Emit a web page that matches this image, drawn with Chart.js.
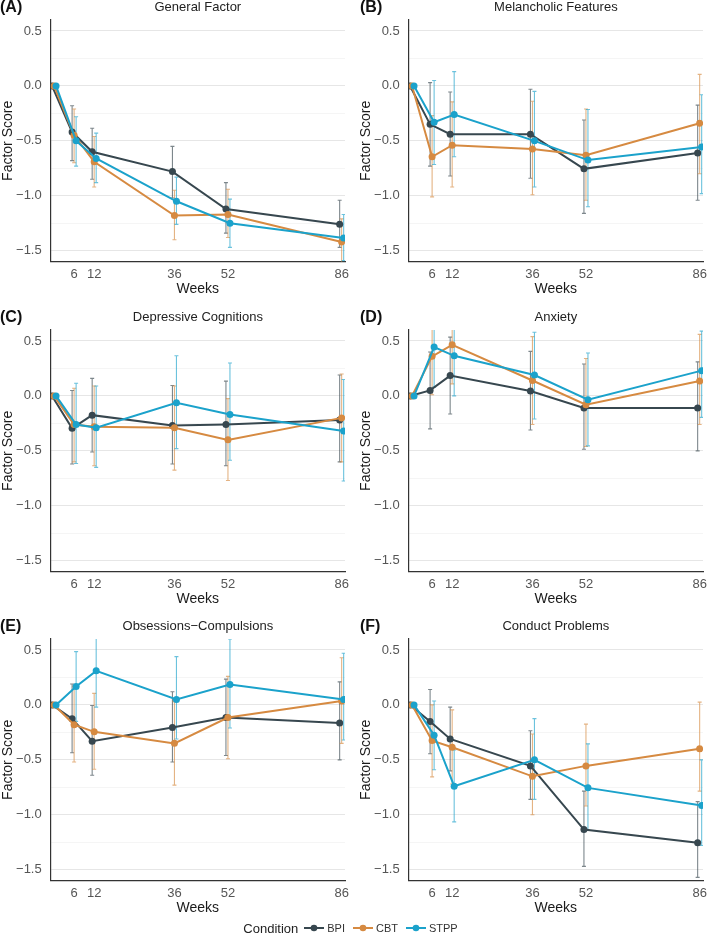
<!DOCTYPE html>
<html>
<head>
<meta charset="utf-8">
<script src="https://cdn.jsdelivr.net/npm/chart.js@4.4.1/dist/chart.umd.min.js"></script>
<style>
  body { margin: 0; background: #fff; width: 709px; height: 935px; position: relative; overflow: hidden;
         font-family: "Liberation Sans", Arial, sans-serif; }
  .panel { position: absolute; width: 354px; height: 310px; }
  .legend { position: absolute; top: 919px; left: 0; width: 709px; height: 18px; display: flex;
            justify-content: center; align-items: center; color: #333; }
  .legend .cap { font-size: 13px; margin-right: 6px; color: #222; }
  .legend .item { display: flex; align-items: center; font-size: 11px; margin-right: 8px; }
  .legend svg { margin-right: 3px; }
</style>
</head>
<body>
<div id="panels"></div>
<div class="legend" id="legend"><span class="cap">Condition</span></div>
<script>
const weeks = [0, 6, 12, 36, 52, 86];
const weekTicks = [6, 12, 36, 52, 86];
const scoreTicks = [0.5, 0, -0.5, -1, -1.5];
const conditions = ['BPI', 'CBT', 'STPP'];
const colors = ['#37474f', '#d68a41', '#1ba2cb'];
const dodge = [-0.6, 0, 0.6];

const letters = ['(A)', '(B)', '(C)', '(D)', '(E)', '(F)'];
const titles = ['General Factor', 'Melancholic Features', 'Depressive Cognitions',
                'Anxiety', 'Obsessions\u2212Compulsions', 'Conduct Problems'];

// (A) General Factor
const generalBPI = [0, -0.42, -0.60, -0.78, -1.12, -1.26];
const generalBPILow = [null, -0.68, -0.85, -1.02, -1.34, -1.47];
const generalBPIHigh = [null, -0.18, -0.385, -0.55, -0.88, -1.04];
const generalCBT = [0, -0.45, -0.69, -1.18, -1.17, -1.42];
const generalCBTLow = [null, -0.70, -0.92, -1.40, -1.38, -1.63];
const generalCBTHigh = [null, -0.21, -0.46, -0.95, -0.94, -1.21];
const generalSTPP = [0, -0.50, -0.66, -1.05, -1.25, -1.385];
const generalSTPPLow = [null, -0.73, -0.88, -1.26, -1.47, -1.59];
const generalSTPPHigh = [null, -0.28, -0.43, -0.83, -1.03, -1.17];

// (B) Melancholic Features
const melanBPI = [0, -0.35, -0.44, -0.44, -0.755, -0.61];
const melanBPILow = [null, -0.73, -0.82, -0.84, -1.16, -1.04];
const melanBPIHigh = [null, 0.03, -0.055, -0.03, -0.31, -0.175];
const melanCBT = [0, -0.645, -0.54, -0.575, -0.63, -0.34];
const melanCBTLow = [null, -1.01, -0.92, -0.99, -1.04, -0.80];
const melanCBTHigh = [null, -0.27, -0.145, -0.14, -0.21, 0.105];
const melanSTPP = [0, -0.33, -0.26, -0.50, -0.675, -0.555];
const melanSTPPLow = [null, -0.715, -0.645, -0.92, -1.10, -0.98];
const melanSTPPHigh = [null, 0.05, 0.13, -0.05, -0.215, -0.08];

// (C) Depressive Cognitions
const cognBPI = [0, -0.295, -0.175, -0.27, -0.26, -0.22];
const cognBPILow = [null, -0.62, -0.51, -0.62, -0.635, -0.60];
const cognBPIHigh = [null, 0.05, 0.16, 0.095, 0.135, 0.19];
const cognCBT = [0, -0.26, -0.28, -0.29, -0.40, -0.20];
const cognCBTLow = [null, -0.60, -0.635, -0.675, -0.77, -0.60];
const cognCBTHigh = [null, 0.07, 0.09, 0.09, -0.025, 0.20];
const cognSTPP = [0, -0.26, -0.29, -0.063, -0.17, -0.32];
const cognSTPPLow = [null, -0.615, -0.65, -0.48, -0.585, -0.775];
const cognSTPPHigh = [null, 0.115, 0.09, 0.365, 0.30, 0.15];

// (D) Anxiety
const anxBPI = [0, 0.05, 0.185, 0.045, -0.11, -0.11];
const anxBPILow = [null, -0.30, -0.165, -0.31, -0.485, -0.50];
const anxBPIHigh = [null, 0.40, 0.535, 0.405, 0.29, 0.31];
const anxCBT = [0, 0.36, 0.465, 0.14, -0.08, 0.135];
const anxCBTLow = [null, 0.01, 0.11, -0.26, -0.46, -0.26];
const anxCBTHigh = [null, 0.72, 0.82, 0.54, 0.34, 0.56];
const anxSTPP = [0, 0.445, 0.365, 0.19, -0.035, 0.23];
const anxSTPPLow = [null, 0.08, 0.0, -0.21, -0.455, -0.195];
const anxSTPPHigh = [null, 0.81, 0.73, 0.58, 0.39, 0.59];

// (E) Obsessions-Compulsions
const ocBPI = [0, -0.125, -0.33, -0.205, -0.115, -0.165];
const ocBPILow = [null, -0.435, -0.64, -0.52, -0.46, -0.50];
const ocBPIHigh = [null, 0.19, -0.005, 0.12, 0.235, 0.21];
const ocCBT = [0, -0.18, -0.245, -0.35, -0.115, 0.035];
const ocCBTLow = [null, -0.52, -0.585, -0.73, -0.49, -0.35];
const ocCBTHigh = [null, 0.17, 0.105, 0.03, 0.26, 0.43];
const ocSTPP = [0, 0.167, 0.31, 0.05, 0.185, 0.05];
const ocSTPPLow = [null, -0.15, -0.02, -0.31, -0.21, -0.32];
const ocSTPPHigh = [null, 0.485, 0.64, 0.44, 0.60, 0.47];

// (F) Conduct Problems
const condBPI = [0, -0.15, -0.31, -0.555, -1.135, -1.255];
const condBPILow = [null, -0.445, -0.60, -0.86, -1.47, -1.57];
const condBPIHigh = [null, 0.14, -0.02, -0.235, -0.785, -0.88];
const condCBT = [0, -0.325, -0.385, -0.65, -0.555, -0.40];
const condCBTLow = [null, -0.655, -0.72, -1.0, -0.92, -0.785];
const condCBTHigh = [null, 0.0, -0.045, -0.265, -0.175, 0.025];
const condSTPP = [0, -0.275, -0.74, -0.50, -0.755, -0.915];
const condSTPPLow = [null, -0.59, -1.065, -0.86, -1.14, -1.28];
const condSTPPHigh = [null, 0.035, -0.41, -0.125, -0.355, -0.50];

const panels = [
  { mean: [generalBPI, generalCBT, generalSTPP], low: [generalBPILow, generalCBTLow, generalSTPPLow], high: [generalBPIHigh, generalCBTHigh, generalSTPPHigh] },
  { mean: [melanBPI, melanCBT, melanSTPP], low: [melanBPILow, melanCBTLow, melanSTPPLow], high: [melanBPIHigh, melanCBTHigh, melanSTPPHigh] },
  { mean: [cognBPI, cognCBT, cognSTPP], low: [cognBPILow, cognCBTLow, cognSTPPLow], high: [cognBPIHigh, cognCBTHigh, cognSTPPHigh] },
  { mean: [anxBPI, anxCBT, anxSTPP], low: [anxBPILow, anxCBTLow, anxSTPPLow], high: [anxBPIHigh, anxCBTHigh, anxSTPPHigh] },
  { mean: [ocBPI, ocCBT, ocSTPP], low: [ocBPILow, ocCBTLow, ocSTPPLow], high: [ocBPIHigh, ocCBTHigh, ocSTPPHigh] },
  { mean: [condBPI, condCBT, condSTPP], low: [condBPILow, condCBTLow, condSTPPLow], high: [condBPIHigh, condCBTHigh, condSTPPHigh] }
];

const FONT = '"Liberation Sans", Arial, sans-serif';
const isMajor = v => Math.abs(v * 2 - Math.round(v * 2)) < 1e-6;

// error bars under the lines, clipped to the panel like coord_cartesian
const errorBars = {
  id: 'errorBars',
  beforeDatasetsDraw(chart) {
    const { ctx, chartArea, scales: { y } } = chart;
    ctx.save();
    ctx.beginPath();
    ctx.rect(chartArea.left, chartArea.top, chartArea.width, chartArea.height);
    ctx.clip();
    chart.data.datasets.forEach((ds, k) => {
      const meta = chart.getDatasetMeta(k);
      ctx.strokeStyle = ds.borderColor;
      ctx.globalAlpha = 0.65;
      ctx.lineWidth = 1.1;
      meta.data.forEach((pt, i) => {
        if (ds.low[i] == null) return;
        const y1 = y.getPixelForValue(ds.low[i]);
        const y2 = y.getPixelForValue(ds.high[i]);
        ctx.beginPath();
        ctx.moveTo(pt.x, y1); ctx.lineTo(pt.x, y2);
        ctx.moveTo(pt.x - 2, y1); ctx.lineTo(pt.x + 2, y1);
        ctx.moveTo(pt.x - 2, y2); ctx.lineTo(pt.x + 2, y2);
        ctx.stroke();
      });
    });
    ctx.restore();
  }
};

const panelText = {
  id: 'panelText',
  afterDraw(chart, args, opts) {
    const { ctx, chartArea } = chart;
    ctx.save();
    ctx.textBaseline = 'middle';
    ctx.fillStyle = '#111';
    ctx.font = 'bold 16px ' + FONT;
    ctx.textAlign = 'left';
    ctx.fillText(opts.letter, opts.letterX, 8);
    ctx.fillStyle = '#222';
    ctx.font = '13px ' + FONT;
    ctx.textAlign = 'center';
    ctx.fillText(opts.title, (chartArea.left + chartArea.right) / 2, 7);
    ctx.restore();
  }
};

const holder = document.getElementById('panels');
panels.forEach((p, n) => {
  const col = n % 2, row = Math.floor(n / 2);
  const div = document.createElement('div');
  div.className = 'panel';
  div.style.left = (col * 358) + 'px';
  div.style.top = [0, 310, 619][row] + 'px';
  const canvas = document.createElement('canvas');
  canvas.width = 354; canvas.height = 310;
  div.appendChild(canvas);
  holder.appendChild(div);

  new Chart(canvas, {
    type: 'line',
    data: {
      datasets: conditions.map((c, k) => ({
        label: c,
        data: weeks.map((w, i) => ({ x: w + dodge[k], y: p.mean[k][i] })),
        low: p.low[k],
        high: p.high[k],
        borderColor: colors[k],
        backgroundColor: colors[k],
        borderWidth: 2,
        pointRadius: 3.5,
        pointBorderWidth: 0,
        tension: 0,
        order: 3 - k
      }))
    },
    options: {
      responsive: false,
      animation: false,
      events: [],
      layout: { padding: { top: 20, right: 9, left: 0, bottom: 0 } },
      plugins: {
        legend: { display: false },
        tooltip: { enabled: false },
        panelText: { letter: letters[n], title: titles[n], letterX: col ? 2 : 0 }
      },
      scales: {
        x: {
          type: 'linear', min: -1, max: 87,
          afterBuildTicks: s => { s.ticks = weekTicks.map(v => ({ value: v })); },
          afterFit: s => { s.height = 48.3; },
          grid: { display: false, drawTicks: false },
          border: { display: true, color: '#333', width: 1.2 },
          ticks: { color: '#555', font: { size: 13, family: FONT }, padding: 5,
                   maxRotation: 0, autoSkip: false, callback: v => String(v) },
          title: { display: true, text: 'Weeks', color: '#1a1a1a', font: { size: 14, family: FONT },
                   padding: { top: 0, bottom: 12.6 } }
        },
        y: {
          min: -1.6, max: 0.6,
          afterBuildTicks: s => {
            const t = [];
            for (let v = -1.5; v <= 0.5001; v += 0.25) t.push({ value: Math.round(v * 100) / 100 });
            s.ticks = t;
          },
          afterFit: s => { s.width = 50.7; },
          grid: {
            drawTicks: false,
            color: c => isMajor(c.tick.value) ? '#e6e6e6' : '#f2f2f2',
            lineWidth: c => isMajor(c.tick.value) ? 1.1 : 0.8
          },
          border: { display: true, color: '#333', width: 1.2 },
          ticks: {
            color: '#555', font: { size: 13, family: FONT }, padding: 9,
            callback: v => scoreTicks.some(t => Math.abs(t - v) < 1e-6) ? v.toFixed(1).replace('-', '\u2212') : ''
          },
          title: { display: true, text: 'Factor Score', color: '#1a1a1a', font: { size: 14, family: FONT },
                   padding: { top: 0, bottom: 0 } }
        }
      }
    },
    plugins: [errorBars, panelText]
  });
});

// legend
const legend = document.getElementById('legend');
conditions.forEach((c, k) => {
  const item = document.createElement('span');
  item.className = 'item';
  item.innerHTML = '<svg width="20" height="10"><line x1="0" y1="5" x2="20" y2="5" stroke="' + colors[k] +
    '" stroke-width="2"/><circle cx="10" cy="5" r="3.3" fill="' + colors[k] + '"/></svg>' + c;
  legend.appendChild(item);
});
</script>
</body>
</html>
